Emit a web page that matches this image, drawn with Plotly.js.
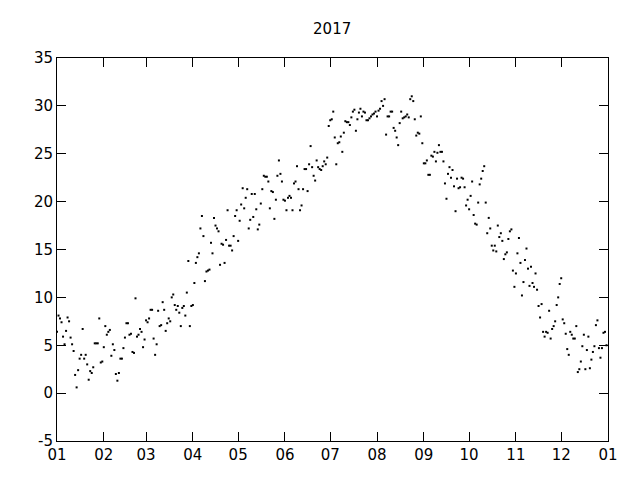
<!DOCTYPE html>
<html>
<head>
<meta charset="utf-8">
<script src="https://cdn.plot.ly/plotly-3.0.1.min.js"></script>
<style>html,body{margin:0;padding:0;background:#fff;}#chart{width:640px;height:480px;}</style>
</head>
<body>
<div id="chart"></div>
<script>
const year = 2017;
const titleText = "2017";
const yTickVals = [-5, 0, 5, 10, 15, 20, 25, 30, 35];
const yTickText = ["-5", "0", "5", "10", "15", "20", "25", "30", "35"];
const jan = [6.4, 8.1, 7.8, 7.4, 5.9, 5.1, 6.5, 7.9, 7.5, 5.8, 5.1, 4.4, 1.9, 0.6, 2.4, 3.6, 4.0, 6.7, 3.6, 4.0, 3.0, 1.4, 2.3, 2.1, 2.7, 5.2, 5.2, 5.2, 7.8, 3.2, 3.3];
const feb = [4.8, 7.0, 6.1, 6.4, 6.6, 3.9, 5.1, 4.5, 2.0, 1.3, 2.1, 3.6, 3.6, 4.7, 5.8, 7.3, 7.3, 6.1, 6.2, 4.3, 4.2, 9.9, 5.9, 6.1, 6.7, 6.4, 4.8, 5.6];
const mar = [7.6, 7.4, 7.8, 8.7, 8.7, 5.7, 4.0, 5.1, 8.6, 7.0, 7.1, 9.5, 8.7, 6.5, 7.3, 7.8, 7.5, 10.0, 10.3, 9.2, 8.7, 9.1, 8.4, 7.0, 8.9, 9.1, 8.1, 10.5, 13.8, 7.0, 9.1];
const apr = [9.2, 11.5, 13.6, 14.2, 14.6, 17.2, 18.5, 16.4, 11.7, 12.7, 12.8, 12.9, 15.7, 14.6, 18.3, 17.5, 17.2, 16.9, 13.4, 15.6, 15.5, 13.6, 16.0, 19.1, 15.4, 15.4, 14.9, 16.4, 18.5, 19.1];
const may = [15.9, 18.0, 19.7, 21.4, 19.3, 20.4, 21.3, 17.2, 18.1, 20.8, 18.4, 20.8, 19.2, 17.1, 17.6, 19.8, 21.3, 22.7, 22.6, 22.6, 22.1, 19.3, 21.1, 21.0, 18.2, 20.2, 22.7, 24.3, 22.9, 22.1, 20.2];
const jun = [20.1, 19.1, 20.4, 20.6, 20.4, 19.1, 21.9, 22.1, 23.7, 21.3, 19.1, 19.6, 21.3, 23.4, 23.4, 21.1, 23.9, 25.8, 23.6, 22.7, 22.2, 24.3, 23.6, 23.4, 23.3, 23.7, 24.2, 23.9, 24.6, 27.9];
const jul = [28.5, 28.6, 29.4, 26.7, 23.9, 26.1, 26.2, 26.8, 25.2, 27.2, 28.4, 28.3, 28.3, 28.0, 28.8, 29.4, 29.6, 27.4, 28.6, 29.3, 29.7, 28.9, 29.4, 29.3, 28.5, 28.5, 28.7, 28.9, 29.1, 29.2, 29.4];
const aug = [28.9, 29.5, 29.7, 30.5, 30.0, 30.7, 27.0, 28.9, 28.9, 29.4, 29.4, 27.7, 27.4, 26.7, 25.9, 28.2, 29.4, 28.7, 28.8, 28.9, 29.1, 28.8, 30.7, 31.0, 30.5, 28.6, 26.9, 27.2, 27.1, 28.9, 26.1];
const sep = [24.0, 24.0, 24.3, 22.8, 22.8, 24.8, 24.7, 25.2, 24.2, 25.1, 25.9, 25.2, 25.2, 24.2, 21.9, 20.3, 22.9, 23.6, 22.5, 23.3, 21.6, 19.0, 22.4, 21.4, 21.5, 22.5, 22.4, 21.5, 19.6, 20.2];
const oct = [19.2, 20.6, 22.1, 18.6, 17.7, 17.6, 19.9, 21.8, 22.4, 23.2, 23.7, 19.9, 16.7, 18.3, 17.2, 15.4, 14.9, 15.4, 14.8, 17.5, 16.3, 16.7, 15.9, 14.0, 14.5, 14.7, 16.1, 16.9, 17.1, 12.8, 11.1];
const nov = [12.5, 14.6, 16.2, 13.6, 10.2, 11.6, 13.9, 15.1, 13.0, 11.2, 13.2, 11.5, 11.1, 12.5, 10.8, 9.1, 7.9, 9.3, 6.4, 5.9, 6.4, 6.3, 8.6, 5.7, 6.7, 7.0, 7.5, 9.2, 10.0, 11.4];
const dec = [12.0, 7.7, 7.3, 6.2, 4.6, 4.0, 6.4, 6.1, 5.7, 5.7, 7.0, 2.2, 2.5, 3.3, 4.9, 6.1, 2.5, 4.5, 5.9, 2.6, 3.5, 4.3, 4.9, 7.1, 7.6, 4.7, 3.7, 4.7, 6.3, 6.4, 5.0];
const months = [jan, feb, mar, apr, may, jun, jul, aug, sep, oct, nov, dec];

const x = [], y = [];
months.forEach((vals, m) => {
  vals.forEach((v, d) => {
    const mm = String(m + 1).padStart(2, "0");
    const dd = String(d + 1).padStart(2, "0");
    x.push(`${year}-${mm}-${dd}`);
    y.push(v);
  });
});

const font = {family: "DejaVu Sans, sans-serif", size: 15, color: "#000"};
const axisCommon = {
  showline: true, linecolor: "#000", linewidth: 1, mirror: "allticks",
  ticks: "inside", ticklen: 9, tickwidth: 1, tickcolor: "#000",
  showgrid: false, zeroline: false, tickfont: font
};

Plotly.newPlot("chart", [{
  x: x, y: y, type: "scatter", mode: "markers",
  marker: {color: "#000", size: 2, symbol: "square"},
  hoverinfo: "skip"
}], {
  width: 640, height: 480,
  margin: {l: 57, r: 32, t: 58, b: 39},
  paper_bgcolor: "#fff", plot_bgcolor: "#fff",
  showlegend: false,
  title: {text: titleText, font: font, x: 0.519, xanchor: "center", y: 0.94, yanchor: "middle"},
  xaxis: Object.assign({}, axisCommon, {
    type: "date", range: ["2017-01-01", "2018-01-01"],
    tick0: "2017-01-01", dtick: "M1", tickformat: "%m"
  }),
  yaxis: Object.assign({}, axisCommon, {
    range: [-5, 35], tickmode: "array", tickvals: yTickVals, ticktext: yTickText
  })
}, {staticPlot: true});
</script>
</body>
</html>
